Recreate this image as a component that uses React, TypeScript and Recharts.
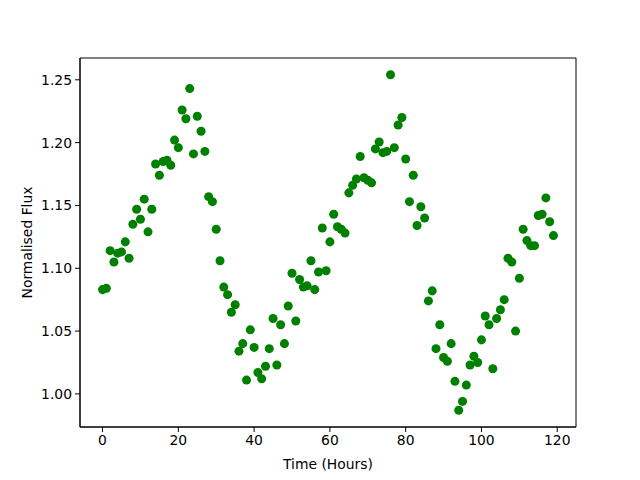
import React from "react";
import {
    ScatterChart,
    Scatter,
    XAxis,
    YAxis,
    ZAxis,
    ReferenceArea,
} from "recharts";

const hours: number[] = Array.from({ length: 120 }, (_, i) => i);

const flux: number[] = [
    1.083, 1.084, 1.114, 1.105, 1.112, 1.113, 1.121, 1.108, 1.135, 1.147,
    1.139, 1.155, 1.129, 1.147, 1.183, 1.174, 1.185, 1.186, 1.182, 1.202,
    1.196, 1.226, 1.219, 1.243, 1.191, 1.221, 1.209, 1.193, 1.157, 1.153,
    1.131, 1.106, 1.085, 1.079, 1.065, 1.071, 1.034, 1.040, 1.011, 1.051,
    1.037, 1.017, 1.012, 1.022, 1.036, 1.060, 1.023, 1.055, 1.040, 1.070,
    1.096, 1.058, 1.091, 1.085, 1.086, 1.106, 1.083, 1.097, 1.132, 1.098,
    1.121, 1.143, 1.133, 1.131, 1.128, 1.160, 1.166, 1.171, 1.189, 1.172,
    1.170, 1.168, 1.195, 1.2005, 1.192, 1.193, 1.254, 1.196, 1.214, 1.220,
    1.187, 1.153, 1.174, 1.134, 1.149, 1.140, 1.074, 1.082, 1.036, 1.055,
    1.029, 1.026, 1.040, 1.010, 0.987, 0.994, 1.007, 1.023, 1.030, 1.025,
    1.043, 1.062, 1.055, 1.020, 1.060, 1.067, 1.075, 1.108, 1.105, 1.050,
    1.092, 1.131, 1.122, 1.118, 1.118, 1.142, 1.143, 1.156, 1.137, 1.126,
];

const xTicks = [0, 20, 40, 60, 80, 100, 120];
const yTicks = [1.0, 1.05, 1.1, 1.15, 1.2, 1.25];

const xDomain = [-5.95, 124.95];
const yDomain = [0.97365, 1.26735];

const points = hours.map((h, i) => ({ time: h, flux: flux[i] }));

const font = { fontFamily: "DejaVu Sans", fontSize: 13.9, fill: "#000" };

export default function App() {
    return (
        <div style={{ position: "absolute", left: 0, top: 0, width: 640, height: 480, background: "#fff" }}>
            <ScatterChart
                width={640}
                height={480}
                margin={{ top: 58, right: 64, bottom: 0, left: 0 }}
            >
                <XAxis
                    type="number"
                    dataKey="time"
                    domain={xDomain}
                    ticks={xTicks}
                    allowDataOverflow
                    height={53}
                    tickSize={5}
                    tickMargin={3}
                    tick={font}
                    stroke="#000"
                    tickLine={{ stroke: "#000" }}
                    label={{
                        value: "Time (Hours)",
                        position: "insideBottom",
                        offset: 11,
                        style: font,
                    }}
                />
                <YAxis
                    type="number"
                    dataKey="flux"
                    domain={yDomain}
                    ticks={yTicks}
                    allowDataOverflow
                    width={80}
                    tickSize={5}
                    tickMargin={3}
                    tick={font}
                    tickFormatter={(v: number) => v.toFixed(2)}
                    stroke="#000"
                    tickLine={{ stroke: "#000" }}
                    label={{
                        value: "Normalised Flux",
                        angle: -90,
                        position: "insideLeft",
                        offset: 27,
                        style: { ...font, textAnchor: "middle" },
                    }}
                />
                <ZAxis range={[64, 64]} />
                {/* frame, like the four spines */}
                <ReferenceArea
                    x1={xDomain[0]}
                    x2={xDomain[1]}
                    y1={yDomain[0]}
                    y2={yDomain[1]}
                    fill="none"
                    fillOpacity={0}
                    stroke="#000"
                    strokeOpacity={1}
                    strokeWidth={1}
                    ifOverflow="visible"
                />
                <Scatter
                    data={points}
                    fill="#008000"
                    isAnimationActive={false}
                />
            </ScatterChart>
        </div>
    );
}
